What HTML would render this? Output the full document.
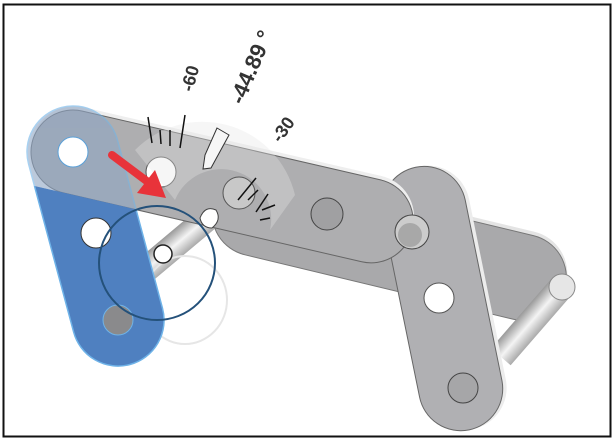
<!DOCTYPE html>
<html><head><style>
html,body{margin:0;padding:0;background:#fff;}
svg{display:block;}
text{font-family:"Liberation Sans",sans-serif;font-weight:bold;fill:#333;}
</style></head><body>
<svg width="615" height="441" viewBox="0 0 615 441">
<rect x="0" y="0" width="615" height="441" fill="#fff"/>
<rect x="3.5" y="4.5" width="607" height="432" fill="none" stroke="#111" stroke-width="2"/>
<defs>
<linearGradient id="pin" x1="0" y1="0" x2="1" y2="0">
<stop offset="0" stop-color="#999"/><stop offset="0.5" stop-color="#f4f4f4"/><stop offset="1" stop-color="#aaa"/>
</linearGradient>
<clipPath id="below"><polygon points="0,178 615,320 615,441 0,441"/></clipPath>
<clipPath id="above"><polygon points="0,0 615,0 615,320 0,178"/></clipPath>
</defs>

<!-- back bar -->
<g transform="translate(255,213) rotate(13.5)">
<rect x="-43" y="-47" width="362" height="86" rx="43" fill="#e4e4e4"/>
<rect x="-43" y="-43" width="362" height="86" rx="43" fill="#a9a9ab" stroke="#777" stroke-width="1"/>
</g>
<!-- right pin -->
<g transform="translate(531,322) rotate(41)">
<rect x="-13" y="-46" width="26" height="92" fill="url(#pin)"/>
</g>
<ellipse cx="562" cy="287" rx="13" ry="13" fill="#e6e6e6" stroke="#888"/>
<!-- right rocker link -->
<g transform="translate(426,208) rotate(-11.5)">
<rect x="-42" y="-42" width="86" height="268" rx="42" fill="#ececec"/>
<rect x="-44" y="-42" width="84" height="268" rx="42" fill="#b0b0b3" stroke="#666"/>
</g>
<circle cx="439" cy="298" r="15" fill="#fff" stroke="#555"/>
<circle cx="463" cy="388" r="15" fill="#a6a6a8" stroke="#444"/>
<!-- left pin -->
<g transform="translate(186,236) rotate(50)">
<rect x="-13" y="-35" width="26" height="90" fill="url(#pin)"/>
</g>
<ellipse cx="185" cy="300" rx="42" ry="44" fill="none" stroke="#e6e6e6" stroke-width="2"/>
<!-- top bar -->
<g transform="translate(73,152) rotate(13)">
<rect x="-42" y="-46" width="390" height="84" rx="42" fill="#eeeeee"/>
<rect x="-42" y="-42" width="390" height="84" rx="42" fill="#aeaeb0" stroke="#666"/>
</g>
<circle cx="161" cy="172" r="15" fill="#fff" stroke="#555"/>
<circle cx="239" cy="193" r="16" fill="#c8c8c8" stroke="#555"/>
<circle cx="327" cy="214" r="16" fill="#a0a0a2" stroke="#444"/>
<circle cx="412" cy="232" r="17" fill="#ccc" stroke="#444"/>
<circle cx="410" cy="235" r="12" fill="#a8a8a8"/>
<!-- protractor -->
<path d="M135,150 A95,95 0 0 1 295,195 L270,230 A50,50 0 0 0 175,200 Z" fill="#e6e6e6" opacity="0.35"/>
<g stroke="#111" stroke-width="1.5">
<line x1="148" y1="117" x2="152" y2="143"/>
<line x1="160" y1="130" x2="161" y2="144"/>
<line x1="170" y1="130" x2="170" y2="146"/>
<line x1="185" y1="115" x2="180" y2="148"/>
<line x1="256" y1="178" x2="238" y2="200"/>
<line x1="258" y1="190" x2="248" y2="200"/>
<line x1="268" y1="194" x2="256" y2="212"/>
<line x1="275" y1="205" x2="262" y2="210"/>
<line x1="270" y1="218" x2="260" y2="220"/>
</g>
<polygon points="217,128 229,135 211,168 203,169 205,155" fill="#f6f6f6" stroke="#333" stroke-width="1"/>
<text transform="translate(196,80) rotate(-75)" font-size="18" text-anchor="middle">-60</text>
<text transform="translate(258,70) rotate(-67)" font-size="22" text-anchor="middle" fill="#000">-44.89 °</text>
<text transform="translate(288,133) rotate(-55)" font-size="18" text-anchor="middle">-30</text>
<!-- blue link -->
<g clip-path="url(#above)">
<g transform="translate(73,152) rotate(-15)">
<rect x="-46" y="-46" width="92" height="266" rx="46" fill="#8ea5c4" opacity="0.6" stroke="#6fb3e8" stroke-width="1.5"/>
</g>
</g>
<g clip-path="url(#below)">
<g transform="translate(73,152) rotate(-15)">
<rect x="-46" y="-46" width="92" height="266" rx="46" fill="#4f80c0" stroke="#6fb3e8" stroke-width="1.5"/>
</g>
</g>
<circle cx="73" cy="152" r="15" fill="#fff" stroke="#5aa0d8"/>
<circle cx="96" cy="233" r="15" fill="#fff" stroke="#333"/>
<circle cx="118" cy="320" r="15" fill="#8a8a8c" stroke="#6fb3e8"/>
<!-- small knob -->
<path d="M200,218 Q205,205 216,210 Q222,220 212,228 Q202,228 200,218Z" fill="#fff" stroke="#444"/>
<circle cx="163" cy="254" r="9" fill="#fff" stroke="#222" stroke-width="1.5"/>
<!-- dark blue circle -->
<ellipse cx="157" cy="263" rx="58" ry="57" fill="none" stroke="#24517a" stroke-width="2"/>
<!-- red arrow -->
<line x1="112" y1="155" x2="148" y2="182" stroke="#e8333a" stroke-width="8" stroke-linecap="round"/>
<polygon points="166,198 137,193 155,170" fill="#e8333a"/>
</svg>
</body></html>
